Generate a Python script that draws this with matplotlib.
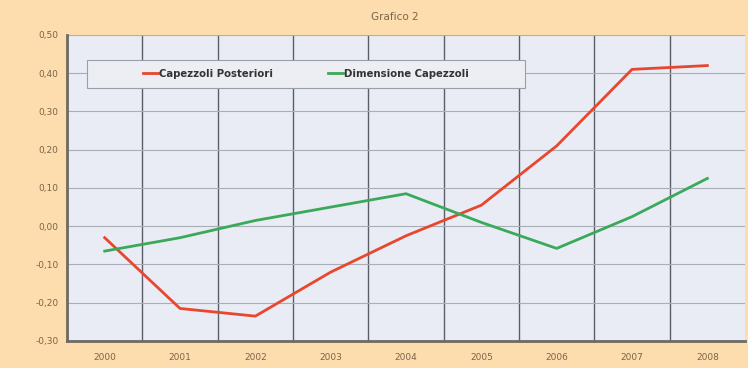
import matplotlib.pyplot as plt
from matplotlib.ticker import FixedLocator
from matplotlib.patches import Rectangle

years = ['2000', '2001', '2002', '2003', '2004', '2005', '2006', '2007', '2008']
posteriori = [-0.03, -0.215, -0.235, -0.12, -0.025, 0.055, 0.21, 0.41, 0.42]
dimensione = [-0.065, -0.03, 0.015, 0.05, 0.085, 0.01, -0.058, 0.025, 0.125]
yticks = [-0.3, -0.2, -0.1, 0.0, 0.1, 0.2, 0.3, 0.4, 0.5]

bg = '#fddcae'
txt = '#7a6648'

fig = plt.figure(figsize=(7.48, 3.68), dpi=100)
fig.patch.set_facecolor(bg)
ax = fig.add_axes([0.0896, 0.0734, 0.9064, 0.8316])
ax.set_facecolor('#e9ecf4')

x = list(range(len(years)))
ax.plot(x, posteriori, color='#e8472e', linewidth=2.0, label='Capezzoli Posteriori', zorder=3)
ax.plot(x, dimensione, color='#3aa95a', linewidth=2.0, label='Dimensione Capezzoli', zorder=3)

ax.set_xlim(-0.5, len(years) - 0.5)
ax.set_ylim(-0.3, 0.5)
ax.set_xticks(x)
ax.set_xticklabels(years)
ax.xaxis.set_minor_locator(FixedLocator([i + 0.5 for i in range(len(years) - 1)]))
ax.set_yticks(yticks)
ax.set_yticklabels([('%.2f' % v).replace('.', ',').replace('-0,00', '0,00') for v in yticks])

ax.grid(axis='y', which='major', color='#a9adb6', linewidth=0.8)
ax.grid(axis='x', which='minor', color='#5a5e66', linewidth=1.0)
ax.set_axisbelow(True)
ax.tick_params(axis='both', which='both', length=0, labelsize=6.5, labelcolor=txt)
ax.tick_params(axis='x', pad=9)
ax.tick_params(axis='y', pad=6)

for s in ['top', 'right']:
    ax.spines[s].set_visible(False)
for s in ['left', 'bottom']:
    ax.spines[s].set_color('#6e6a62')
    ax.spines[s].set_linewidth(2)

fig.text(0.528, 0.955, 'Grafico 2', ha='center', va='center', fontsize=7.5, color=txt)

# legend box (Excel style), entries centred inside
ax.add_patch(Rectangle((0.029, 0.827), 0.646, 0.091, transform=ax.transAxes,
                       facecolor='#eceef4', edgecolor='#9a9ea8', linewidth=0.8, zorder=4))
leg = ax.legend(loc='center', bbox_to_anchor=(0.352, 0.8725), ncol=2, frameon=False,
                handlelength=1.5, handletextpad=0.1, columnspacing=5.4, borderaxespad=0,
                prop={'weight': 'bold', 'size': 7.3})
leg.set_zorder(5)
for t in leg.get_texts():
    t.set_color('#333333')

fig.savefig('out.png', dpi=100, facecolor=bg)
